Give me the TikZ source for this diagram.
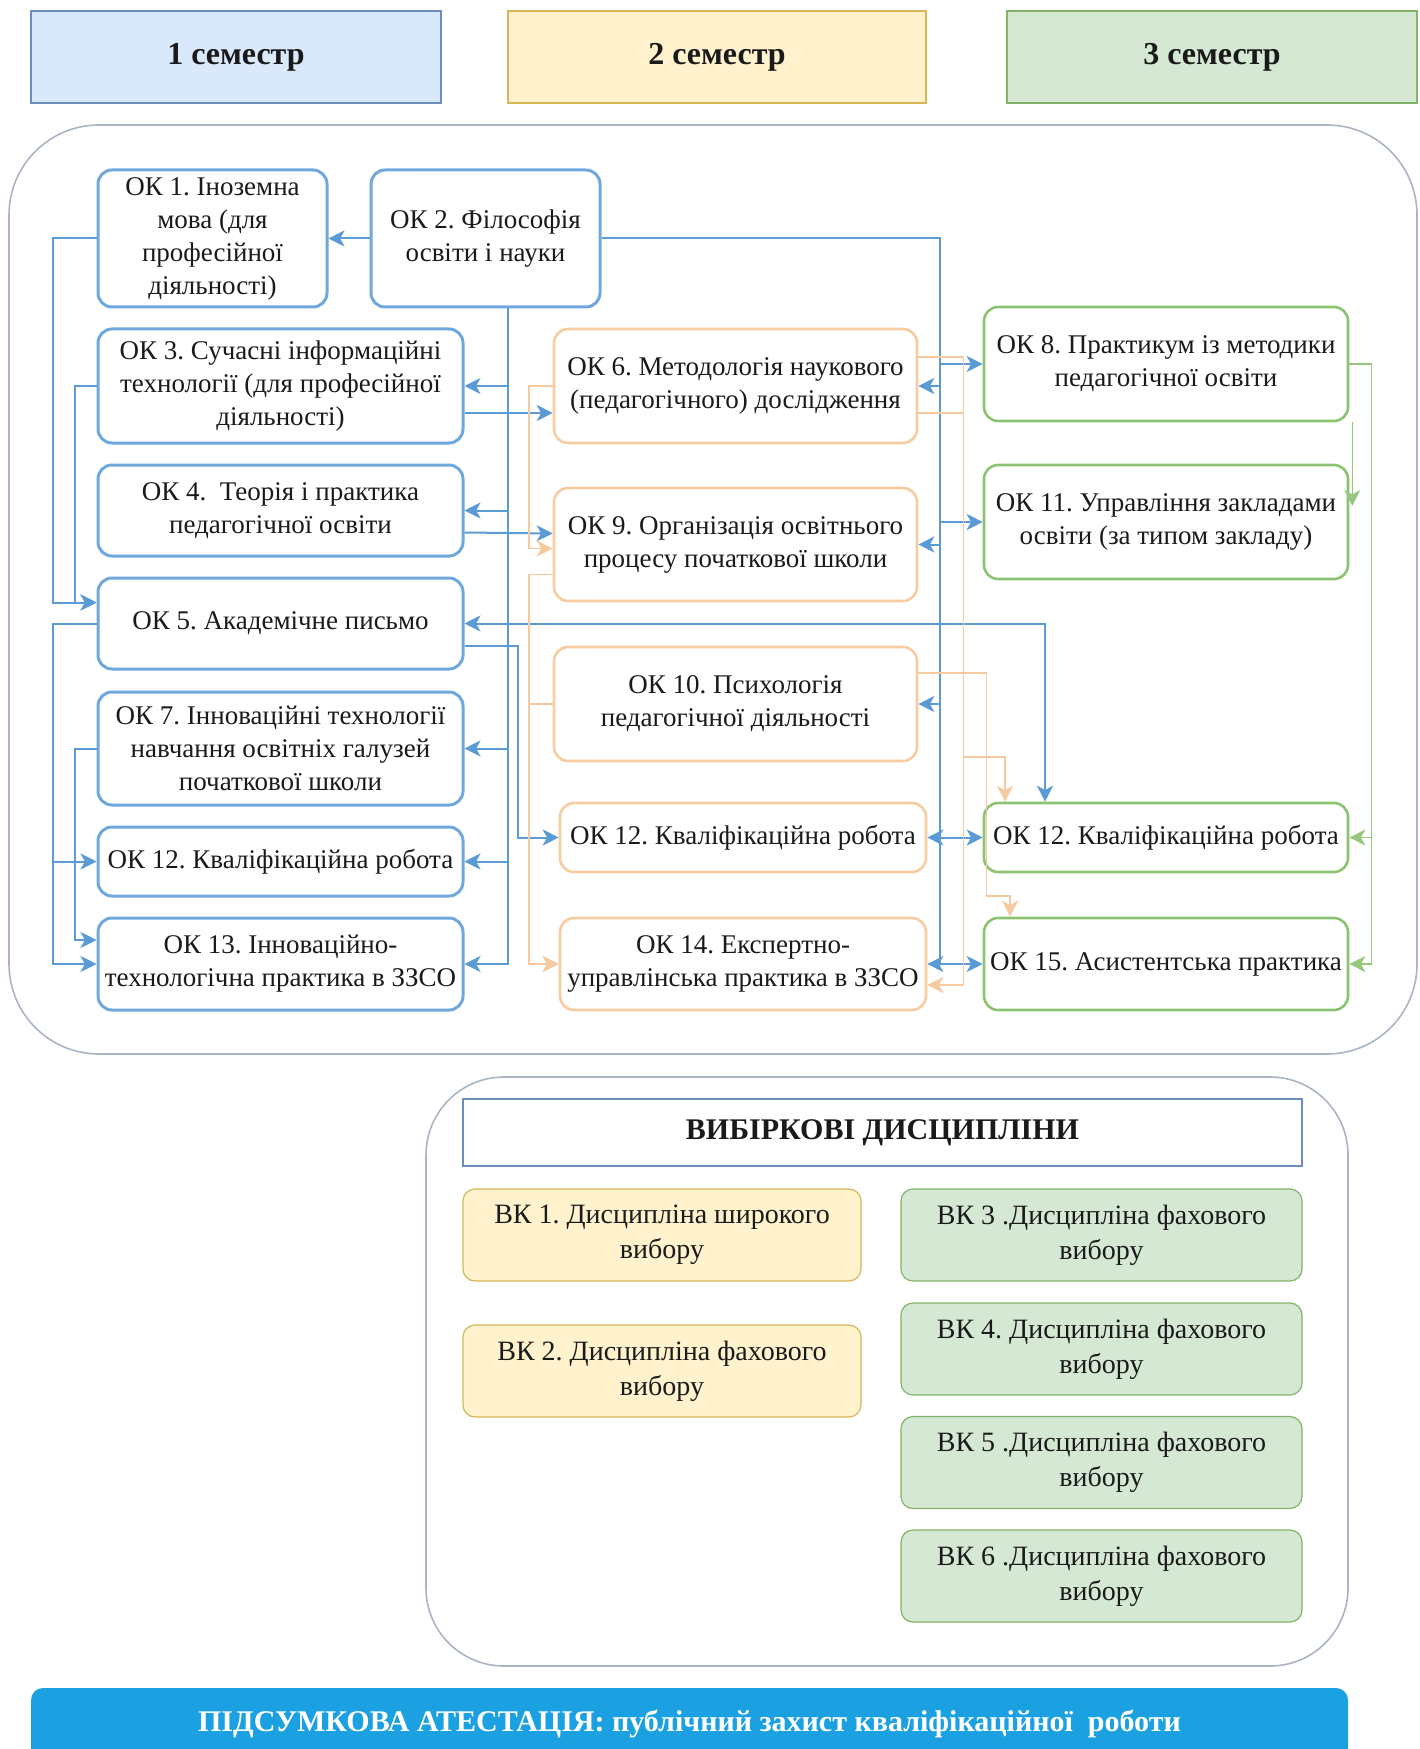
\documentclass[tikz,border=0pt]{standalone}
\usepackage{fontspec}
\setmainfont{Liberation Serif}
\usepackage{tikz}
\usetikzlibrary{calc}
\usetikzlibrary{arrows.meta}
\frenchspacing

\definecolor{txt}{HTML}{1A1A1A}
\definecolor{blueL}{HTML}{5B9BD5}
\definecolor{blueB}{HTML}{6FA8DC}
\definecolor{orangeL}{HTML}{F6C9A1}
\definecolor{orangeB}{HTML}{F8CBA0}
\definecolor{greenL}{HTML}{97C77E}
\definecolor{greenB}{HTML}{8CC370}
\definecolor{panelB}{HTML}{A9B4C4}
\definecolor{semBfill}{HTML}{DAE8FC}
\definecolor{semBdraw}{HTML}{6C8EBF}
\definecolor{semYfill}{HTML}{FFF2CC}
\definecolor{semYdraw}{HTML}{D6B656}
\definecolor{semGfill}{HTML}{D5E8D4}
\definecolor{semGdraw}{HTML}{82B366}
\definecolor{barfill}{HTML}{1BA1E2}

\begin{document}
\begin{tikzpicture}[x=0.5pt,y=-0.5pt, >={Stealth[length=8pt,width=8pt,inset=2.2pt]}]
    \tikzset{
      sem/.style={draw, rectangle, line width=0.6pt, minimum width=205pt, minimum height=46pt, text=txt, font=\fontsize{16}{19}\selectfont\bfseries},
      box/.style={draw, rectangle, rounded corners=7pt, fill=white, align=center, inner sep=0pt, text=txt, font=\fontsize{13.5}{16.5}\selectfont},
      bbox/.style={box, draw=blueB, line width=1.5pt},
      obox/.style={box, draw=orangeB, line width=1.3pt},
      gbox/.style={box, draw=greenB, line width=1.3pt},
      vk/.style={box, line width=0.6pt, rounded corners=6pt, minimum height=46pt, font=\fontsize{14}{17.5}\selectfont},
      panel/.style={draw=panelB, line width=0.8pt},
      bl/.style={draw=blueL, line width=1pt, ->},
      ol/.style={draw=orangeL, line width=0.8pt, ->},
      gl/.style={draw=greenL, line width=0.8pt, ->}
    }
    \useasboundingbox (0,0) rectangle (1419,1749);

    % semesters
    \node [sem, fill=semBfill, draw=semBdraw] (sem1) at (236,57) {1 семестр};
    \node [sem, fill=semYfill, draw=semYdraw, minimum width=209pt] (sem2) at (717,57) {2 семестр};
    \node [sem, fill=semGfill, draw=semGdraw] (sem3) at (1212,57) {3 семестр};

    \draw [panel, rounded corners=45pt] (9,125) rectangle (1417,1054);
    \draw [panel, rounded corners=39pt] (426,1077) rectangle (1348,1666);

    % 1 semester
    \node [bbox, minimum width=114.5pt, minimum height=68.5pt] (ok1) at (212.5,238.5) {ОК 1. Іноземна\\мова (для\\професійної\\діяльності)};
    \node [bbox, minimum width=114.5pt, minimum height=68.5pt] (ok2) at (485.5,238.5) {ОК 2. Філософія\\освіти і науки};
    \node [bbox, minimum width=182.5pt, minimum height=57pt] (ok3) at (280.5,386) {ОК 3. Сучасні інформаційні\\технології (для професійної\\діяльності)};
    \node [bbox, minimum width=182.5pt, minimum height=45.5pt] (ok4) at (280.5,510.5) {ОК 4.~~Теорія і практика\\педагогічної освіти};
    \node [bbox, minimum width=182.5pt, minimum height=45.5pt] (ok5) at (280.5,623.5) {ОК 5. Академічне письмо};
    \node [bbox, minimum width=182.5pt, minimum height=56.5pt] (ok7) at (280.5,748.5) {ОК 7. Інноваційні технології\\навчання освітніх галузей\\початкової школи};
    \node [bbox, minimum width=182.5pt, minimum height=34.5pt] (ok12a) at (280.5,861.5) {ОК 12. Кваліфікаційна робота};
    \node [bbox, minimum width=182.5pt, minimum height=46pt] (ok13) at (280.5,964) {ОК 13. Інноваційно-\\технологічна практика в ЗЗСО};

    % 2 semester
    \node [obox, minimum width=181.5pt, minimum height=57pt] (ok6) at (735.5,386) {ОК 6. Методологія наукового\\(педагогічного) дослідження};
    \node [obox, minimum width=181.5pt, minimum height=56.5pt] (ok9) at (735.5,544.5) {ОК 9. Організація освітнього\\процесу початкової школи};
    \node [obox, minimum width=181.5pt, minimum height=57pt] (ok10) at (735.5,704) {ОК 10. Психологія\\педагогічної діяльності};
    \node [obox, minimum width=183pt, minimum height=34.5pt] (ok12b) at (743,837.5) {ОК 12. Кваліфікаційна робота};
    \node [obox, minimum width=183pt, minimum height=46pt] (ok14) at (743,964) {ОК 14. Експертно-\\управлінська практика в ЗЗСО};

    % 3 semester
    \node [gbox, minimum width=182pt, minimum height=57pt] (ok8) at (1166,364) {ОК 8. Практикум із методики\\педагогічної освіти};
    \node [gbox, minimum width=182pt, minimum height=57pt] (ok11) at (1166,522) {ОК 11. Управління закладами\\освіти (за типом закладу)};
    \node [gbox, minimum width=182pt, minimum height=34.5pt] (ok12c) at (1166,837.5) {ОК 12. Кваліфікаційна робота};
    \node [gbox, minimum width=182pt, minimum height=46pt] (ok15) at (1166,964) {ОК 15. Асистентська практика};

    % blue links
    \draw [bl] (ok2.west) -- (ok1.east);
    \draw [bl] (ok1.west) -- ++(-44,0) |- ($(ok5.west)+(0,-21)$);
    \draw [bl] (ok3.west) -- ++(-22,0) |- ($(ok5.west)+(0,-21)$);
    \draw [bl] (ok5.west) -- ++(-44,0) |- (ok12a.west);
    \draw [bl] (ok5.west) -- ++(-44,0) |- (ok13.west);
    \draw [bl] (ok7.west) -- ++(-22,0) |- ($(ok13.west)+(0,-24)$);
    \draw [bl] ($(ok2.south)+(22,0)$) |- (ok3.east);
    \draw [bl] ($(ok2.south)+(22,0)$) |- (ok4.east);
    \draw [bl] ($(ok2.south)+(22,0)$) |- (ok7.east);
    \draw [bl] ($(ok2.south)+(22,0)$) |- (ok12a.east);
    \draw [bl] ($(ok2.south)+(22,0)$) |- (ok13.east);
    \draw [bl] ($(ok3.east)+(0,27)$) -- ($(ok6.west)+(0,27)$);
    \draw [bl] ($(ok4.east)+(0,22)$) -- ($(ok9.west)+(0,-11)$);
    \draw [bl, <->] (ok5.east) -| ($(ok12c.north)+(-121,0)$);
    \draw [bl] ($(ok5.east)+(0,22)$) -- ++(53,0) |- (ok12b.west);
    \coordinate (btr) at ($(ok14.east)+(13,0)$);
    \draw [bl, -] (ok2.east) -| (btr);
    \draw [bl] (btr) |- (ok6.east);
    \draw [bl] (btr) |- (ok8.west);
    \draw [bl] (btr) |- (ok9.east);
    \draw [bl] (btr) |- (ok11.west);
    \draw [bl] (btr) |- (ok10.east);
    \draw [bl, <->] (ok12b.east) -- (ok12c.west);
    \draw [bl, <->] (ok14.east) -- (ok15.west);

    % orange links
    \draw [ol] (ok6.west) -- ++(-24,0) |- ($(ok9.west)+(0,4)$);
    \draw [ol] ($(ok9.west)+(0,30)$) -- ++(-24,0) |- (ok14.west);
    \draw [ol] (ok10.west) -- ++(-24,0) |- (ok14.west);
    \draw [ol] ($(ok6.east)+(0,-29)$) -- ++(45,0) |- ($(ok12c.north)+(-161,-45)$) -- ($(ok12c.north)+(-161,0)$);
    \draw [ol] ($(ok6.east)+(0,27)$) -- ++(45,0) |- ($(ok14.east)+(0,21)$);
    \draw [ol] ($(ok10.east)+(0,-31)$) -- ++(68,0) |- ($(ok15.north)+(-156,-21)$) -- ($(ok15.north)+(-156,0)$);

    % green links
    \draw [gl] (ok8.east) -- ++(22,0) |- (ok12c.east);
    \draw [gl] (ok8.east) -- ++(22,0) |- (ok15.east);
    \draw [gl] ($(ok8.south east)+(3,0)$) -- ($(ok11.east)+(3,-16)$);

    % elective courses
    \node [box, rounded corners=0pt, draw=semBdraw, line width=0.6pt, minimum width=419.5pt, minimum height=33.5pt, font=\fontsize{15}{18}\selectfont\bfseries] (vib) at (882.5,1132.5) {ВИБІРКОВІ ДИСЦИПЛІНИ};
    \node [vk, fill=semYfill, draw=semYdraw, minimum width=199pt] (vk1) at (662,1235) {ВК 1. Дисципліна широкого\\вибору};
    \node [vk, fill=semYfill, draw=semYdraw, minimum width=199pt] (vk2) at (662,1371) {ВК 2. Дисципліна фахового\\вибору};
    \node [vk, fill=semGfill, draw=semGdraw, minimum width=200.5pt] (vk3) at (1101.5,1235) {ВК 3 .Дисципліна фахового\\вибору};
    \node [vk, fill=semGfill, draw=semGdraw, minimum width=200.5pt] (vk4) at (1101.5,1349) {ВК 4. Дисципліна фахового\\вибору};
    \node [vk, fill=semGfill, draw=semGdraw, minimum width=200.5pt] (vk5) at (1101.5,1462.5) {ВК 5 .Дисципліна фахового\\вибору};
    \node [vk, fill=semGfill, draw=semGdraw, minimum width=200.5pt] (vk6) at (1101.5,1576) {ВК 6 .Дисципліна фахового\\вибору};

    \node [rectangle, rounded corners=6pt, fill=barfill, text=white, minimum width=658.5pt, minimum height=36pt, font=\fontsize{15}{18}\selectfont\bfseries] (final) at (689.5,1724) {ПІДСУМКОВА АТЕСТАЦІЯ: публічний захист кваліфікаційної~ роботи};
\end{tikzpicture}
\end{document}
